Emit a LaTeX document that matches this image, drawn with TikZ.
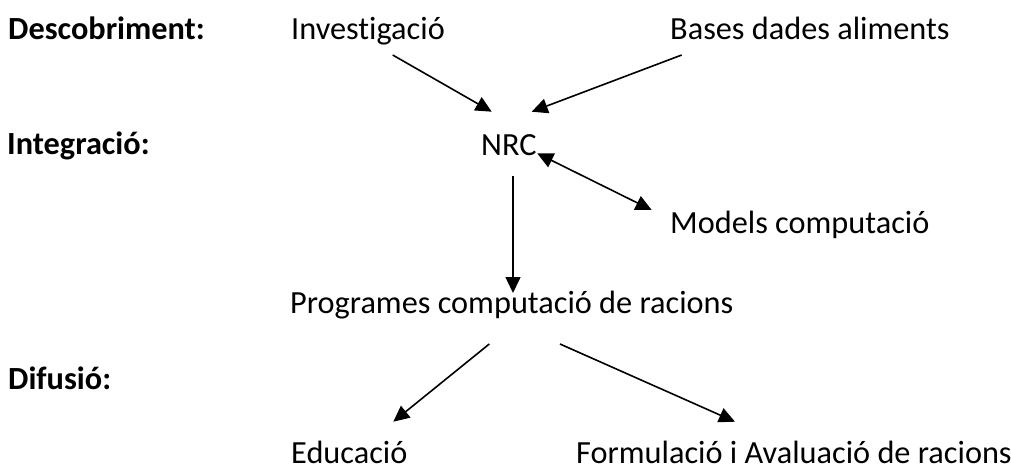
\documentclass[tikz,border=0pt]{standalone}
\usepackage{fontspec}
\setmainfont{Carlito}[Ligatures=NoCommon]
\usetikzlibrary{arrows.meta}
\begin{document}
\begin{tikzpicture}[x=1pt,y=-1pt,
  lbl/.style={anchor=base west,inner sep=0pt,font=\fontsize{32.3}{38}\selectfont},
  hdr/.style={lbl,font=\fontsize{32.3}{38}\selectfont\bfseries},
  arr/.style={line width=1.6pt,-{Triangle[length=16pt,width=15pt]}},
  darr/.style={line width=1.6pt,{Triangle[length=16pt,width=15pt]}-{Triangle[length=16pt,width=15pt]}}]
\useasboundingbox[fill=white] (0,0) rectangle (1011,471);
% row labels
\node[hdr] (desc) at (8,39) {Descobriment:};
\node[hdr] (integ) at (7,154) {Integració:};
\node[hdr] (difus) at (8,389) {Difusió:};
% nodes
\node[lbl] (inv) at (291,39) {Investigació};
\node[lbl] (bases) at (670,39) {Bases dades aliments};
\node[lbl] (nrc) at (481,155) {NRC};
\node[lbl] (models) at (670,233) {Models computació};
\node[lbl] (prog) at (290,313) {Programes computació de racions};
\node[lbl] (educ) at (291,463) {Educació};
\node[lbl] (form) at (576,463) {Formulació i Avaluació de racions};
% connector ends
\coordinate (invS) at (392.7,55);
\coordinate (nrcL) at (491.7,111.7);
\coordinate (basesS) at (681.7,55);
\coordinate (nrcR) at (531.7,111.7);
\coordinate (nrcE) at (537.2,153.3);
\coordinate (modelsW) at (651.7,210);
\coordinate (nrcS) at (513,176);
\coordinate (progN) at (513,293);
\coordinate (progSW) at (489.3,344);
\coordinate (educN) at (393.3,421.7);
\coordinate (progSE) at (560,344);
\coordinate (formN) at (735,421.7);
% connectors
\draw[arr] (invS) -- (nrcL);
\draw[arr] (basesS) -- (nrcR);
\draw[darr] (nrcE) -- (modelsW);
\draw[arr] (nrcS) -- (progN);
\draw[arr] (progSW) -- (educN);
\draw[arr] (progSE) -- (formN);
\end{tikzpicture}
\end{document}
